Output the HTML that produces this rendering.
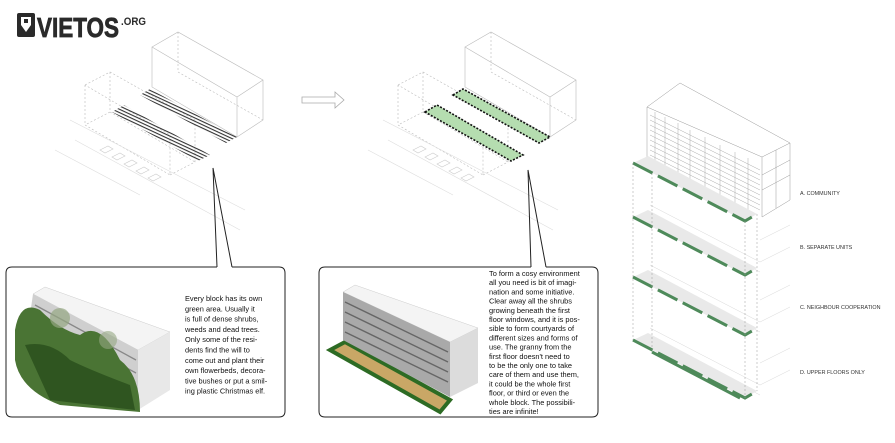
<!DOCTYPE html>
<html><head><meta charset="utf-8"><style>
html,body{margin:0;padding:0;background:#fff;}
svg{display:block;}
.t{font-family:"Comic Sans MS","Liberation Sans",sans-serif;font-size:7.4px;fill:#111;}
.lb{font-family:"Liberation Sans",sans-serif;font-size:5.4px;fill:#333;}
</style></head><body>
<svg width="895" height="443" viewBox="0 0 895 443" xmlns="http://www.w3.org/2000/svg">
<defs>
<pattern id="hatch" width="3" height="3" patternUnits="userSpaceOnUse" patternTransform="rotate(25)">
<rect width="3" height="1.1" fill="#333"/></pattern>
</defs>
<!-- logo -->
<rect x="17" y="13" width="18" height="24" rx="2" fill="#2a2a2a"/>
<path d="M21 17 h10 v8 l-5 7 l-5 -7z" fill="#fff"/>
<path d="M24 19 h4 v4 h-4z" fill="#2a2a2a"/>
<text x="37" y="37" font-family="Liberation Sans,sans-serif" font-weight="bold" font-size="28" fill="#2a2a2a" stroke="#2a2a2a" stroke-width="0.8" textLength="82" lengthAdjust="spacingAndGlyphs">VIETOS</text>
<text x="121" y="25" font-family="Liberation Sans,sans-serif" font-weight="bold" font-size="11" fill="#2a2a2a" textLength="25" lengthAdjust="spacingAndGlyphs">.ORG</text>

<!-- diagram 1 -->
<g id="d1" fill="none" stroke="#bbb" stroke-width="0.6">
<path d="M152 47 L178 32 L263 80 L237 97 Z M152 47 V87 L237 137 V97 M263 80 V120 L237 137"/>
<path d="M178 32 V72 L263 120" stroke-dasharray="2 2"/>
<path d="M85 85 L110 72 L195 120 M85 85 V125 L170 175 V135 L85 85 M110 72 V112 L85 125 M170 175 L195 162 V120 M110 112 L195 162" stroke-dasharray="2 2"/>
<path d="M75 140 L240 230 M55 150 L140 195 M70 120 L245 210" stroke="#ddd"/>
<path d="M100 150 l8 -4 l5 3 l-8 4z M112 157 l8 -4 l5 3 l-8 4z M124 164 l8 -4 l5 3 l-8 4z M136 171 l8 -4 l5 3 l-8 4z M148 178 l8 -4 l5 3 l-8 4z" stroke="#ccc"/>
</g>
<use href="#d1" x="313" y="0"/>
<path d="M140 95 L150 89 L237 137 L226 143 Z" fill="url(#hatch)"/>
<path d="M112 112 L124 105 L210 155 L198 161 Z" fill="url(#hatch)"/>
<!-- green strips diagram 2 -->
<path d="M453 95 L463 89 L550 137 L539 143 Z" fill="#b5ddb0" stroke="#111" stroke-width="1.6" stroke-dasharray="2 1.5"/>
<path d="M425 112 L437 105 L523 155 L511 161 Z" fill="#b5ddb0" stroke="#111" stroke-width="1.6" stroke-dasharray="2 1.5"/>
<!-- arrow -->
<path d="M302 97 h33 v-5 l9 8 l-9 8 v-5 h-33z" fill="none" stroke="#aaa" stroke-width="0.8"/>

<!-- bubble 1 -->
<path d="M217 267 L213 168 L232 267" fill="none" stroke="#222" stroke-width="1"/>
<path d="M217 267 H12 Q6 267 6 273 V411 Q6 417 12 417 H279 Q285 417 285 411 V273 Q285 267 279 267 H232" fill="none" stroke="#222" stroke-width="1"/>
<path d="M33 294 L45 287 L170 332 L138 350 Z" fill="#f4f4f4" stroke="#ccc" stroke-width="0.5"/>
<path d="M33 294 L138 350 V410 L25 350 Z" fill="#cfcfcf"/>
<path d="M138 350 L170 332 V390 L138 410 Z" fill="#e8e8e8"/>
<g stroke="#888" stroke-width="1.3">
<path d="M35 305 L136 360 M33 317 L136 373 M32 330 L136 386 M30 342 L136 398"/>
</g>
<path d="M15 330 Q20 300 40 310 Q60 330 80 335 Q100 320 120 360 Q140 375 140 412 L60 405 Q20 390 15 360 Z" fill="#4a7434"/>
<path d="M25 345 Q50 340 70 360 Q90 370 130 385 L135 410 L50 400 Z" fill="#2f5520"/>
<circle cx="60" cy="318" r="10" fill="#94a682" opacity="0.7"/>
<circle cx="108" cy="340" r="9" fill="#94a682" opacity="0.6"/>
<text class="t"><tspan x="185" y="301">Every block has its own</tspan><tspan x="185" y="311.3">green area. Usually it</tspan><tspan x="185" y="321.6">is full of dense shrubs,</tspan><tspan x="185" y="331.9">weeds and dead trees.</tspan><tspan x="185" y="342.2">Only some of the resi-</tspan><tspan x="185" y="352.5">dents find the will to</tspan><tspan x="185" y="362.8">come out and plant their</tspan><tspan x="185" y="373.1">own flowerbeds, decora-</tspan><tspan x="185" y="383.4">tive bushes or put a smil-</tspan><tspan x="185" y="393.7">ing plastic Christmas elf.</tspan></text>

<!-- bubble 2 -->
<path d="M531 267 L528 170 L546 267" fill="none" stroke="#222" stroke-width="1"/>
<path d="M531 267 H325 Q319 267 319 273 V411 Q319 417 325 417 H592 Q598 417 598 411 V273 Q598 267 592 267 H546" fill="none" stroke="#222" stroke-width="1"/>
<path d="M330 350 L345 342 L450 400 L440 412 Z" fill="#c9a766"/>
<path d="M330 350 L345 342 L450 400 L440 412 Z" fill="none" stroke="#2d6b24" stroke-width="4"/>
<path d="M343 292 L355 285 L478 328 L450 342 Z" fill="#f4f4f4" stroke="#ccc" stroke-width="0.5"/>
<path d="M343 292 L450 342 V397 L343 340 Z" fill="#a9a9a9"/>
<path d="M450 342 L478 328 V383 L450 397 Z" fill="#dcdcdc"/>
<g stroke="#666" stroke-width="1.4">
<path d="M345 302 L448 352 M345 312 L448 362 M345 322 L448 372 M345 332 L448 382"/>
</g>
<text class="t"><tspan x="489" y="276">To form a cosy environment</tspan><tspan x="489" y="285.2">all you need is bit of imagi-</tspan><tspan x="489" y="294.4">nation and some initiative.</tspan><tspan x="489" y="303.6">Clear away all the shrubs</tspan><tspan x="489" y="312.8">growing beneath the first</tspan><tspan x="489" y="322">floor windows, and it is pos-</tspan><tspan x="489" y="331.2">sible to form courtyards of</tspan><tspan x="489" y="340.4">different sizes and forms of</tspan><tspan x="489" y="349.6">use. The granny from the</tspan><tspan x="489" y="358.8">first floor doesn't need to</tspan><tspan x="489" y="368">to be the only one to take</tspan><tspan x="489" y="377.2">care of them and use them,</tspan><tspan x="489" y="386.4">it could be the whole first</tspan><tspan x="489" y="395.6">floor, or third or even the</tspan><tspan x="489" y="404.8">whole block. The possibili-</tspan><tspan x="489" y="414">ties are infinite!</tspan></text>

<!-- right building -->
<g fill="none" stroke="#999" stroke-width="0.5">
<path d="M647 107 L680 83 L790 143 L762 157 Z"/>
<path d="M647 107 V163 M762 157 V217 L790 200 V143"/>
<path d="M776 150 V208"/>
<path d="M762 175 L790 160 M762 190 L790 175"/>
<g stroke="#aaa">
<path d="M650 115 L760 170 M650 120 L760 175 M650 125 L760 180 M650 130 L760 185 M650 135 L760 190 M650 140 L760 195 M650 145 L760 200 M650 150 L760 205 M650 155 L760 210"/>
<path d="M655 112 V165 M665 117 V170 M678 123 V176 M690 130 V183 M705 137 V190 M720 145 V197 M735 152 V204 M748 158 V210"/>
</g>
</g>
<g id="plate">
<path d="M633 163 L648 156 L757 214 L745 221 Z" fill="#e9e9e9"/>
<path d="M633 163 L745 221 L757 214" fill="none" stroke="#4e8a5a" stroke-width="3" stroke-dasharray="22 6"/>
</g>
<g opacity="0.6" fill="none" stroke="#aaa" stroke-width="0.4">
<path d="M650 205 L760 262 M650 215 L760 272 M650 265 L760 322 M650 275 L760 332 M650 328 L760 385 M650 338 L760 395 M760 240 L790 225 M760 262 L790 247 M760 300 L790 285 M760 322 L790 307 M760 363 L790 348 M760 385 L790 370"/>
</g>
<use href="#plate" y="54"/>
<use href="#plate" y="114"/>
<use href="#plate" y="177"/>
<path d="M652 352 L740 398" stroke="#4e8a5a" stroke-width="3" fill="none"/>
<g stroke="#999" stroke-width="0.5" stroke-dasharray="2 2" fill="none">
<path d="M633 163 V340 M652 173 V350 M745 221 V398 M757 214 V391"/>
</g>
<text class="lb" x="800" y="195">A. COMMUNITY</text>
<text class="lb" x="800" y="249">B. SEPARATE UNITS</text>
<text class="lb" x="800" y="309">C. NEIGHBOUR COOPERATION</text>
<text class="lb" x="800" y="374">D. UPPER FLOORS ONLY</text>
</svg>
</body></html>
